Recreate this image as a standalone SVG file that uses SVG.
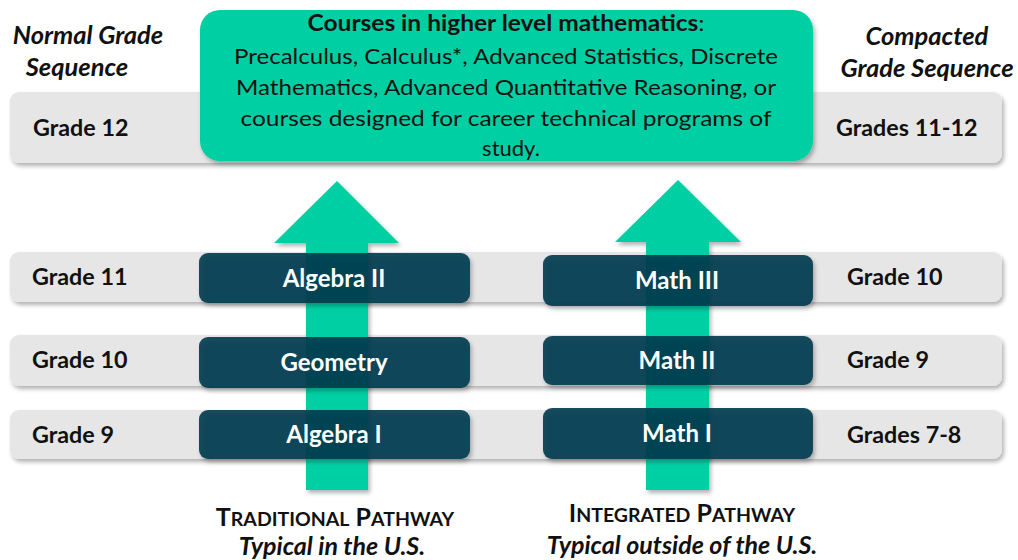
<svg xmlns="http://www.w3.org/2000/svg" width="1018" height="560" viewBox="0 0 1018 560">
<style>
text{font-family:Lato,"Open Sans","Liberation Sans",sans-serif;fill:#111}
.gl{font-size:23.3px;font-weight:bold}
.hd{font-size:25.5px;font-weight:bold;font-style:italic;text-anchor:middle}
.bx{font-size:24px;font-weight:bold;fill:#fff;text-anchor:middle}
.tl{font-size:22px;text-anchor:middle}
.sc{font-size:25px;font-weight:bold;text-anchor:middle}
.bar{fill:#e6e6e6}
.dk{fill:#033a4f;fill-opacity:0.9}
.ar{fill:#00cfa4}
</style>
<defs>
<filter id="sh" x="-10%" y="-20%" width="120%" height="150%">
<feDropShadow dx="2" dy="3" stdDeviation="2" flood-color="#000" flood-opacity="0.3"/>
</filter>
</defs>
<g id="headers">
<text class="hd" x="88" y="44">Normal Grade</text>
<text class="hd" x="77" y="76">Sequence</text>
<text class="hd" x="927" y="45">Compacted</text>
<text class="hd" x="927" y="77">Grade Sequence</text>
</g>
<g id="row12">
<rect class="bar" x="10" y="92" width="992" height="71" rx="9" filter="url(#sh)"/>
<text class="gl" x="33" y="136">Grade 12</text>
<text class="gl" x="836" y="136">Grades 11-12</text>
</g>
<g id="row11">
<rect class="bar" x="10" y="252" width="992" height="50" rx="9" filter="url(#sh)"/>
<text class="gl" x="32" y="285">Grade 11</text>
<text class="gl" x="847" y="285">Grade 10</text>
</g>
<g id="row10">
<rect class="bar" x="10" y="335" width="992" height="51" rx="9" filter="url(#sh)"/>
<text class="gl" x="32" y="368">Grade 10</text>
<text class="gl" x="847" y="368">Grade 9</text>
</g>
<g id="row9">
<rect class="bar" x="10" y="410" width="992" height="49" rx="9" filter="url(#sh)"/>
<text class="gl" x="32" y="443">Grade 9</text>
<text class="gl" x="847" y="443">Grades 7-8</text>
</g>
<g id="connectors">
<path class="ar" d="M306 490 L306 243 L274 243 L337 181 L399 243 L368 243 L368 490 Z" filter="url(#sh)"/>
<path class="ar" d="M646 490 L646 242 L615 242 L678 180 L741 242 L709 242 L709 490 Z" filter="url(#sh)"/>
</g>
<g id="algebra2">
<rect class="dk" x="199" y="253" width="271" height="50" rx="9" filter="url(#sh)"/>
<text class="bx" x="334" y="287">Algebra II</text>
</g>
<g id="geometry">
<rect class="dk" x="199" y="337" width="271" height="51" rx="9" filter="url(#sh)"/>
<text class="bx" x="334" y="371">Geometry</text>
</g>
<g id="algebra1">
<rect class="dk" x="199" y="410" width="271" height="49" rx="9" filter="url(#sh)"/>
<text class="bx" x="334" y="443">Algebra I</text>
</g>
<g id="math3">
<rect class="dk" x="543" y="255" width="270" height="51" rx="9" filter="url(#sh)"/>
<text class="bx" x="677" y="289">Math III</text>
</g>
<g id="math2">
<rect class="dk" x="543" y="336" width="270" height="49" rx="9" filter="url(#sh)"/>
<text class="bx" x="677" y="369">Math II</text>
</g>
<g id="math1">
<rect class="dk" x="543" y="408" width="270" height="51" rx="9" filter="url(#sh)"/>
<text class="bx" x="677" y="442">Math I</text>
</g>
<g id="higher">
<rect x="200" y="10" width="613" height="151" rx="20" fill="#00cfa4" filter="url(#sh)"/>
<text class="tl" x="506" y="31" textLength="397" lengthAdjust="spacingAndGlyphs"><tspan font-weight="bold">Courses in higher level  mathematics</tspan>:</text>
<text class="tl" x="506" y="64" textLength="544" lengthAdjust="spacingAndGlyphs">Precalculus, Calculus*, Advanced Statistics, Discrete</text>
<text class="tl" x="506" y="95" textLength="540" lengthAdjust="spacingAndGlyphs">Mathematics, Advanced Quantitative Reasoning, or</text>
<text class="tl" x="506" y="126" textLength="531" lengthAdjust="spacingAndGlyphs">courses designed for career technical programs of</text>
<text class="tl" x="511" y="156">study.</text>
</g>
<g id="traditional">
<text class="sc" x="335" y="526">T<tspan font-size="19.5">RADITIONAL</tspan> P<tspan font-size="19.5">ATHWAY</tspan></text>
<text class="sc" x="332" y="555" font-style="italic">Typical in the U.S.</text>
</g>
<g id="integrated">
<text class="sc" x="682" y="522">I<tspan font-size="19.5">NTEGRATED</tspan> P<tspan font-size="19.5">ATHWAY</tspan></text>
<text class="sc" x="682" y="554" font-style="italic">Typical outside of the U.S.</text>
</g>
</svg>
